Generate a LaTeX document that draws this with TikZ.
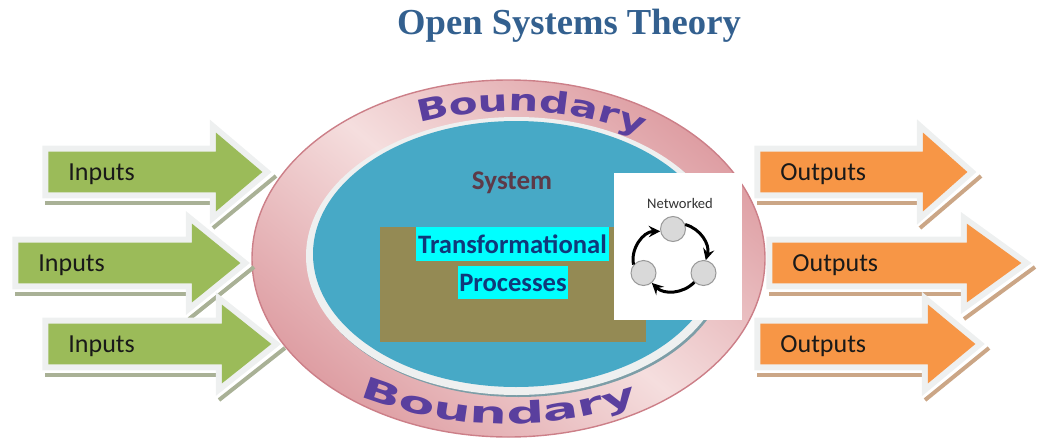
\documentclass[tikz,border=0pt]{standalone}
\usepackage{fontspec}
\usetikzlibrary{shapes.geometric,shapes.arrows,decorations.text}
\setmainfont{Carlito}
\newfontfamily\titlefont{Liberation Serif}
\newfontfamily\boundfont[FakeStretch=1.4]{DejaVu Sans}
\newfontfamily\boundwidefont[FakeStretch=1.75]{DejaVu Sans}

\definecolor{titleblue}{HTML}{33608F}
\definecolor{inputgreen}{HTML}{9BBB59}
\definecolor{inputshade}{HTML}{A9B196}
\definecolor{outputorange}{HTML}{F79646}
\definecolor{outputshade}{HTML}{CBA686}
\definecolor{arrowpale}{HTML}{EEF0F0}
\definecolor{ringdark}{HTML}{DE9EA3}
\definecolor{ringlight}{HTML}{F5DEDE}
\definecolor{ringedge}{HTML}{CC7F88}
\definecolor{systemblue}{HTML}{47A9C6}
\definecolor{processbrown}{HTML}{948A54}
\definecolor{processtext}{HTML}{10397A}
\definecolor{processcyan}{HTML}{00FFFF}
\definecolor{systemtext}{HTML}{5D3A48}
\definecolor{boundpurple}{HTML}{5A3F9E}

\tikzset{
	flowarrow/.style={single arrow, anchor=tip, inner xsep=0pt, inner ysep=10pt, minimum width=39pt,
		single arrow head extend=9.5pt, preaction={draw=arrowpale, line width=6pt}},
	flowlabel/.style={anchor=base west, inner sep=0pt, font=\fontsize{13}{13}\selectfont, text=black!90},
	shadeline/.style={line width=2pt},
	cyanbox/.style={fill=processcyan, inner sep=0pt, font=\bfseries\fontsize{13.3}{13.3}\selectfont, text=processtext},
	netnode/.style={circle, draw=black!40, fill=black!15, line width=0.5pt, minimum size=12.5pt, inner sep=0pt},
	netarrow/.style={->, >=stealth, line width=1.5pt, black},
}

\begin{document}
\begin{tikzpicture}[x=0.5pt,y=-0.5pt]
	\useasboundingbox (0,0) rectangle (1038,439);

	\node[inner sep=0pt, font=\titlefont\bfseries\fontsize{18.3}{18.3}\selectfont, text=titleblue, anchor=base] (title) at (569,34) {Open Systems Theory};

	% ring and system
	\node[ellipse, minimum width=256.5pt, minimum height=178.5pt, inner sep=0pt, draw=ringedge, line width=0.7pt,
		top color=ringdark, bottom color=ringdark, middle color=ringlight, shading angle=-40] (ring) at (508.5,258.5) {};
	\node[ellipse, minimum width=210.5pt, minimum height=139pt, inner sep=0pt, fill=black!45!systemblue!60] (inshade) at (518.5,258) {};
	\node[ellipse, minimum width=210.5pt, minimum height=139pt, inner sep=0pt, fill=arrowpale] (inpale) at (516.5,256) {};
	\node[ellipse, minimum width=203pt, minimum height=133pt, inner sep=0pt, fill=systemblue] (system) at (516,254) {};

	\path[decorate, decoration={text along path, text align=center,
		text={|\boundfont\bfseries\fontsize{15}{15}\selectfont\color{boundpurple}|Boundary}}]
		plot[domain=134:34, samples=40] ({512+232*cos(\x)},{258-147*sin(\x)});
	\path[decorate, decoration={text along path, text align=center,
		text={|\boundwidefont\bfseries\fontsize{15}{15}\selectfont\color{boundpurple}|Boundary}}]
		plot[domain=132:52, samples=40] ({507+280*cos(\x)},{234+190*sin(\x)});

	\node[anchor=base, inner sep=0pt, font=\bfseries\fontsize{13.5}{13.5}\selectfont, text=systemtext] (systemlabel) at (512,189) {System};

	% processes
	\node[fill=processbrown, minimum width=133pt, minimum height=57.5pt, inner sep=0pt] (process) at (513,284) {};
	\node[cyanbox, minimum width=96.5pt, minimum height=17pt] (transf) at (512.5,244) {Transformational};
	\node[cyanbox, minimum width=55pt, minimum height=16.5pt] (proc) at (513,282.5) {Processes};

	% inserted panel
	\node[fill=white, minimum width=64pt, minimum height=73.5pt, inner sep=0pt] (panel) at (678,246.5) {};
	\node[anchor=base, inner sep=0pt, font=\fontsize{7.3}{7.3}\selectfont, text=black!80] (netlabel) at (680,208) {Networked};
	\node[netnode] (ntop) at (673,229) {};
	\node[netnode] (nleft) at (643.5,273) {};
	\node[netnode] (nright) at (703.5,273) {};
	\draw[netarrow] (nleft.140) to[bend left=50] (ntop.190);
	\draw[netarrow] (ntop.20) to[bend left=45] (nright.80);
	\draw[netarrow] (nright.225) to[bend left=45] (nleft.-50);

	% inputs
	\foreach \nm/\tx/\ty/\lx/\bx/\lab in {in1/263/172/49/217/68, in2/241/263/19/193/38, in3/272/344/49/223/68}{
		\pgfmathsetmacro{\ang}{2*atan(39/(\tx-\bx))}
		\pgfmathsetmacro{\len}{(\tx-\lx)*0.5}
		\draw[shadeline, inputshade] (\lx-4,\ty+31) -- (\bx-7,\ty+31);
		\draw[shadeline, inputshade] (\bx-4,\ty+56) -- (\tx+13,\ty+4);
		\node[flowarrow, fill=inputgreen, minimum height=\len pt, single arrow tip angle=\ang] (\nm) at (\tx,\ty) {};
		\node[flowlabel] (\nm label) at (\lab,\ty+8) {Inputs};
	}

	% outputs
	\foreach \nm/\tx/\ty/\lx/\bx/\lab in {out1/968/172/761/924/780, out2/1022/263/773/968/792, out3/976/344/761/929/780}{
		\pgfmathsetmacro{\ang}{2*atan(39/(\tx-\bx))}
		\pgfmathsetmacro{\len}{(\tx-\lx)*0.5}
		\draw[shadeline, outputshade] (\lx-4,\ty+31) -- (\bx-7,\ty+31);
		\draw[shadeline, outputshade] (\bx-4,\ty+56) -- (\tx+13,\ty+4);
		\node[flowarrow, fill=outputorange, minimum height=\len pt, single arrow tip angle=\ang] (\nm) at (\tx,\ty) {};
		\node[flowlabel] (\nm label) at (\lab,\ty+8) {Outputs};
	}
\end{tikzpicture}
\end{document}
